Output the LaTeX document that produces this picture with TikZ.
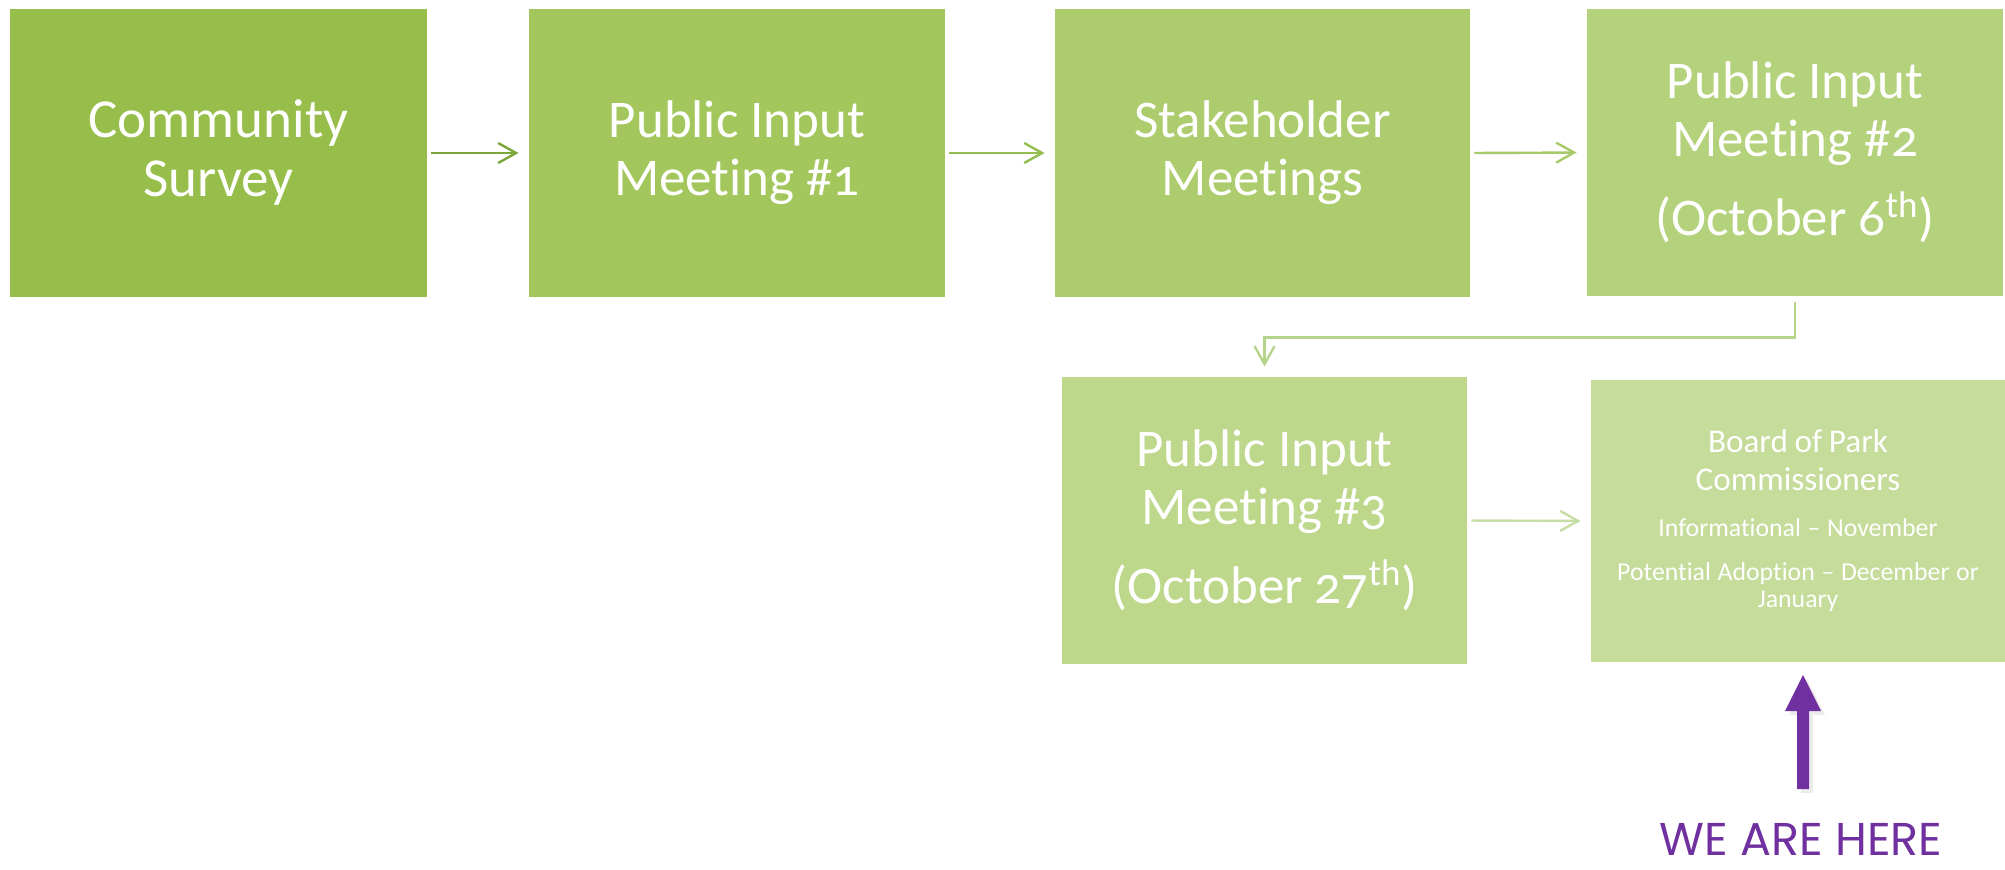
\documentclass[tikz,border=0pt]{standalone}
\usepackage{fontspec}
\setmainfont{Carlito}[Numbers=OldStyle, Ligatures=NoCommon]
\newfontfamily\herefont{Poppins}
\usetikzlibrary{arrows.meta,shadows}
\definecolor{cA}{HTML}{97BE4A}
\definecolor{cB}{HTML}{A3C75D}
\definecolor{cC}{HTML}{ACCC6D}
\definecolor{cD}{HTML}{B4D17C}
\definecolor{cE}{HTML}{BDD78B}
\definecolor{cF}{HTML}{C5DC9A}
\definecolor{aA}{HTML}{7BA63A}
\definecolor{aB}{HTML}{94BE52}
\definecolor{aC}{HTML}{A6C96A}
\definecolor{aD}{HTML}{B6D38A}
\definecolor{aE}{HTML}{C6DDA6}
\definecolor{purp}{HTML}{7030A0}
\tikzset{
  stage/.style={draw=none, inner sep=0pt, align=center, text=white,
    font=\fontsize{26.5}{29}\selectfont},
  link/.style={line width=1.2pt, -{Straight Barb[length=9pt,width=10pt,line width=1.2pt]},
    shorten <=2pt, shorten >=5pt},
}
\begin{document}
\begin{tikzpicture}[x=0.5pt,y=-0.5pt]
\useasboundingbox (0,0) rectangle (2005,869);
\node[stage, fill=cA, minimum width=208.5pt, minimum height=144pt, font=\fontsize{27.5}{29.5}\selectfont] (b1) at (218.5,153) {Community\\Survey};
\node[stage, fill=cB, minimum width=208pt, minimum height=144pt] (b2) at (737,153) {Public Input\\Meeting \#1};
\node[stage, fill=cC, minimum width=207.5pt, minimum height=144pt] (b3) at (1262.5,153) {Stakeholder\\Meetings};
\node[stage, fill=cD, minimum width=208pt, minimum height=143.5pt] (b4) at (1795,152.5) {Public Input\\Meeting \#2\\[10.5pt](October 6\textsuperscript{th})};
\node[stage, fill=cE, minimum width=202.5pt, minimum height=143.5pt] (b5) at (1264.5,520.5) {Public Input\\Meeting \#3\\[10.5pt](October 27\textsuperscript{th})};
\node[stage, fill=cF, minimum width=207pt, minimum height=141pt, text width=200pt, font=\normalsize] (b6) at (1798,521) {%
  \fontsize{16.6}{19}\selectfont Board of Park\par Commissioners\par
  \vspace{9.5pt}\fontsize{12.9}{13.5}\selectfont Informational – November\par
  \vspace{8.5pt}Potential Adoption – December or\\January\par};
\draw[link, aA] (b1.east) -- (b2.west);
\draw[link, aB] (b2.east) -- (b3.west);
\draw[link, aC] (b3.east) -- (b4.west);
\draw[link, aD, shorten <=3pt] (b4.south) -- ++(0,41) -| (b5.north);
\draw[link, aE] (b5.east) -- (b6.west);
\fill[purp, drop shadow={shadow xshift=2pt, shadow yshift=-2pt, opacity=0.15}]
  (1803,675) -- (1821,711) -- (1809,711) -- (1809,789) -- (1797,789) -- (1797,711) -- (1785,711) -- cycle;
\node[anchor=base, text=purp, inner sep=0pt, font=\herefont\fontsize{23}{25}\selectfont] (here) at (1801,855) {WE ARE HERE};
\end{tikzpicture}
\end{document}
